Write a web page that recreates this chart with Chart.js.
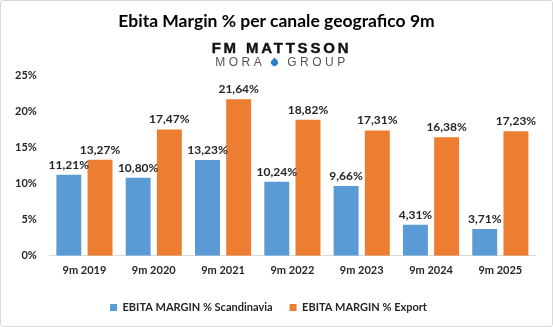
<!DOCTYPE html>
<html>
<head>
<meta charset="utf-8">
<script src="https://cdn.jsdelivr.net/npm/chart.js@4.4.1/dist/chart.umd.min.js"></script>
<style>
  body { margin: 0; background: #ffffff; }
  #wrap { position: relative; width: 553px; height: 327px; }
  #frame { position: absolute; left: 0; top: 0; right: 0; bottom: 0; border: 1px solid #d9d9d9; border-radius: 3px; pointer-events: none; }
  #title { position: absolute; left: 0; width: 553px; top: 10px; text-align: center; font: bold 17.5px Lato, sans-serif; color: #000; }
  #logo1 { position: absolute; left: 0; width: 563px; top: 39px; text-align: center; font: 900 15px "Liberation Sans", sans-serif; color: #111; letter-spacing: 2.8px; -webkit-text-stroke: 0.4px #111; }
  #logo2 { position: absolute; left: 0; width: 564px; top: 55px; text-align: center; font: 12px "Liberation Sans", sans-serif; color: #555; letter-spacing: 3.5px; }
  .drop { display: inline-block; width: 7px; height: 7px; background: #2f7fc8; border-radius: 0 50% 50% 50%; transform: rotate(45deg); margin: 0 9px 0 6px; }
</style>
</head>
<body>
<div id="wrap">
  <canvas id="chart" width="553" height="327"></canvas>
  <div id="title">Ebita Margin % per canale geografico 9m</div>
  <div id="logo1">FM MATTSSON</div>
  <div id="logo2">MORA<span class="drop"></span>GROUP</div>
  <div id="frame"></div>
</div>
<script>
// data
var categories = ['9m 2019', '9m 2020', '9m 2021', '9m 2022', '9m 2023', '9m 2024', '9m 2025'];
var scandinavia = [11.21, 10.80, 13.23, 10.24, 9.66, 4.31, 3.71];
var exportVals = [13.27, 17.47, 21.64, 18.82, 17.31, 16.38, 17.23];
var yTicks = [0, 5, 10, 15, 20, 25];

function fmt(v) {
  return v.toFixed(2).replace('.', ',') + '%';
}

// value labels above bars
var barLabels = {
  id: 'barLabels',
  afterDatasetsDraw: function(chart) {
    var ctx = chart.ctx;
    ctx.save();
    ctx.font = 'bold 12px Lato, sans-serif';
    ctx.fillStyle = '#262626';
    ctx.textAlign = 'center';
    ctx.textBaseline = 'bottom';
    chart.data.datasets.forEach(function(ds, i) {
      chart.getDatasetMeta(i).data.forEach(function(bar, j) {
        ctx.fillText(fmt(ds.data[j]), bar.x, bar.y - 4);
      });
    });
    ctx.restore();
  }
};

var font11 = { family: 'Lato, sans-serif', size: 11, weight: 'bold' };

var ctx = document.getElementById('chart').getContext('2d');
var chart = new Chart(ctx, {
  type: 'bar',
  data: {
    labels: categories,
    datasets: [
      { label: 'EBITA MARGIN % Scandinavia', data: scandinavia, backgroundColor: '#5b9bd5' },
      { label: 'EBITA MARGIN % Export', data: exportVals, backgroundColor: '#ed7d31' }
    ]
  },
  options: {
    responsive: false,
    animation: false,
    categoryPercentage: 0.9,
    barPercentage: 0.8,
    layout: { padding: { top: 75, left: 2, right: 18, bottom: 4 } },
    plugins: {
      legend: {
        position: 'bottom',
        labels: {
          boxWidth: 7,
          boxHeight: 7,
          padding: 17,
          color: '#262626',
          font: font11
        }
      },
      tooltip: { enabled: false }
    },
    scales: {
      x: {
        grid: { display: false, drawTicks: false },
        border: { color: '#d9d9d9' },
        ticks: { padding: 8, color: '#262626', font: font11 }
      },
      y: {
        min: 0,
        max: 25,
        grid: { display: false, drawTicks: false },
        border: { display: false },
        afterBuildTicks: function(axis) {
          axis.ticks = yTicks.map(function(v) { return { value: v }; });
        },
        ticks: {
          padding: 13,
          color: '#262626',
          font: font11,
          callback: function(v) { return v + '%'; }
        }
      }
    }
  },
  plugins: [barLabels]
});
</script>
</body>
</html>
